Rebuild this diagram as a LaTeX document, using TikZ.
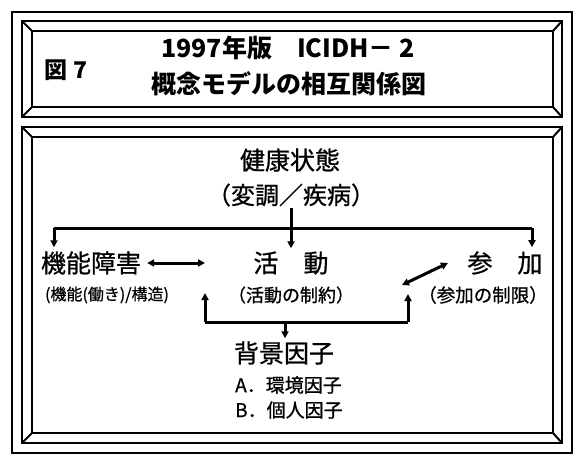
\documentclass[tikz,border=0pt]{standalone}
\usepackage{fontspec}
\newfontfamily\jp{Noto Sans CJK JP}
\newfontfamily\jpm[FakeBold=0.8]{Noto Sans CJK JP}
\usetikzlibrary{arrows.meta}
\begin{document}
\begin{tikzpicture}[x=1pt,y=-1pt,
  frame/.style={line width=2pt},
  lbl/.style={inner sep=0pt, font=\jpm},
  ln/.style={line width=3pt},
  arr/.style={ln, -{Triangle[length=7pt,width=7pt]}},
  darr/.style={ln, {Triangle[length=7pt,width=7pt]}-{Triangle[length=7pt,width=7pt]}}]
\useasboundingbox (0,0) rectangle (579,466);
% outer frame
\draw[frame] (12,12) rectangle (572,453);
% top panel
\draw[frame] (22,21) rectangle (562,117);
\draw[frame] (32,31) rectangle (553,107);
\draw[frame] (22,21) -- (32,31) (562,21) -- (553,31) (22,117) -- (32,107) (562,117) -- (553,107);
% bottom panel
\draw[frame] (22,127) rectangle (562,443);
\draw[frame] (32,137) rectangle (553,433);
\draw[frame] (22,127) -- (32,137) (562,127) -- (553,137) (22,443) -- (32,433) (562,443) -- (553,433);
% title
\node[lbl, font=\jp\bfseries\fontsize{23}{23}\selectfont] (fig) at (66,70) {図 7};
\node[lbl, font=\jp\bfseries\fontsize{25}{25}\selectfont] (t1) at (288,48) {1997年版　ICIDH－ 2};
\node[lbl, font=\jp\bfseries\fontsize{25}{25}\selectfont] (t2) at (289,84) {概念モデルの相互関係図};
% body
\node[lbl, font=\jpm\fontsize{25}{25}\selectfont] (health) at (290,160) {健康状態};
\node[lbl, font=\jpm\fontsize{24}{24}\selectfont] (healthsub) at (291,195) {（変調／疾病）};
\node[lbl, font=\jpm\fontsize{25}{25}\selectfont] (imp) at (91,263) {機能障害};
\node[lbl, font=\jpm\fontsize{25}{25}\selectfont] (act) at (291,263) {活　動};
\node[lbl, font=\jpm\fontsize{25}{25}\selectfont] (par) at (505,263) {参　加};
\node[lbl, font=\jpm\fontsize{16}{16}\selectfont] (impsub) at (107,295) {(機能(働き)/構造)};
\node[lbl, font=\jpm\fontsize{18}{18}\selectfont] (actsub) at (291,295) {（活動の制約）};
\node[lbl, font=\jpm\fontsize{18.5}{18.5}\selectfont] (parsub) at (483,295) {（参加の制限）};
\node[lbl, font=\jpm\fontsize{25}{25}\selectfont] (bg) at (284,353) {背景因子};
\node[lbl, font=\jpm\fontsize{19}{19}\selectfont, anchor=west] (bga) at (235,385) {A．環境因子};
\node[lbl, font=\jpm\fontsize{19}{19}\selectfont, anchor=west] (bgb) at (235,410) {B．個人因子};
% connectors
\coordinate (L) at (54,228);
\coordinate (R) at (532,228);
\draw[ln] (L) -- (R);
\draw[arr, shorten >=4pt] (L) -- (L |- imp.north);
\draw[arr, shorten >=4pt] (R) -- (R |- par.north);
\draw[arr, shorten <=1pt, shorten >=3pt] (healthsub.south) -- (act.north);
\coordinate (a1) at (205,263);
\draw[darr, shorten <=6pt] (imp.east) -- (a1);
\coordinate (p1) at (448,263);
\coordinate (p2) at (402,285);
\draw[darr] (p2) -- (p1);
\coordinate (bl) at (205,322);
\coordinate (br) at (408,322);
\coordinate (bm) at (285,322);
\coordinate (blt) at (205,293);
\coordinate (brt) at (408,294);
\draw[ln] (bl) -- (br);
\draw[arr] (bl) -- (blt);
\draw[arr] (br) -- (brt);
\draw[arr, shorten >=3pt] (bm) -- (bm |- bg.north);
\end{tikzpicture}
\end{document}
